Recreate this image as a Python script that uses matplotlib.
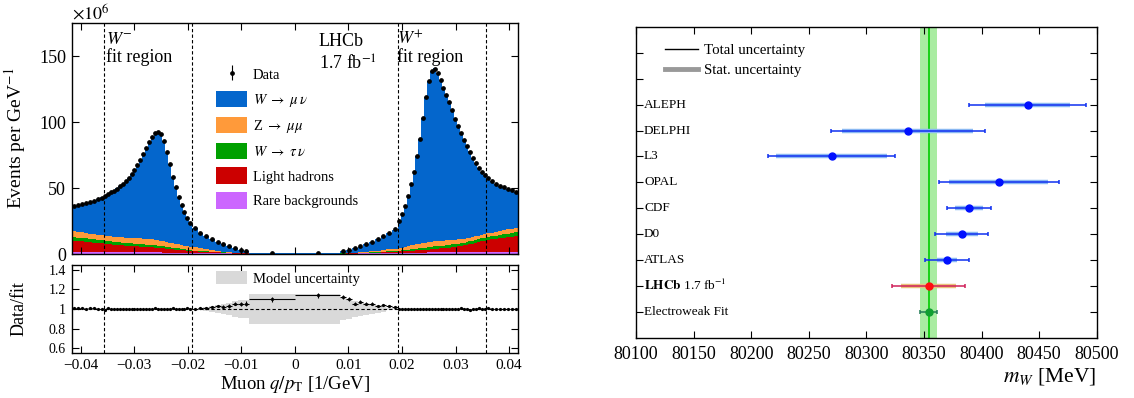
import numpy as np
import matplotlib
matplotlib.use('Agg')
import matplotlib.pyplot as plt
from matplotlib.lines import Line2D
from matplotlib.patches import Patch
from matplotlib.ticker import MultipleLocator, FuncFormatter

plt.rcParams['font.family'] = ['Liberation Serif', 'DejaVu Serif']
plt.rcParams['mathtext.fontset'] = 'stix'
plt.rcParams['axes.linewidth'] = 1.0

# ----- q/pT histogram (values in 1e6 events per GeV^-1) -----
# W- side: outer (8 bins), fit region (30), inner (10), centre (1)
data_neg = [36.3, 36.9, 37.6, 38.5, 39.4, 40.3, 41.5, 42.8,
            44.2, 45.4, 46.7, 48.0, 49.6, 51.2, 53.0, 55.0, 57.5, 60.5,
            64.0, 67.5, 71.5, 76.0, 80.5, 85.0, 89.0, 92.0, 92.5, 91.0,
            85.5, 77.0, 68.0, 58.5, 50.5, 43.5, 37.5, 31.5, 27.0, 23.5,
            20.0, 16.2, 13.6, 11.3, 9.4, 7.6, 6.0, 4.5, 3.2, 2.2,
            0.5]
# W+ side: centre (1), inner (10), fit region (30), outer (8)
data_pos = [0.5,
            2.3, 3.2, 4.4, 6.1, 7.6, 9.4, 11.5, 13.8, 16.2, 18.8,
            25.0, 30.0, 36.0, 44.0, 53.0, 62.0, 74.0, 87.0, 103.0, 119.0,
            131.0, 139.0, 140.5, 137.0, 132.0, 126.0, 120.5, 115.0, 109.0, 102.5,
            97.0, 91.5, 86.0, 81.5, 77.0, 72.7, 68.6, 65.2, 62.3, 59.8,
            57.5, 55.2, 53.3, 51.8, 50.5, 49.5, 48.3, 47.2]

rare_neg = [1.3] * 8 + [1.2] * 20 + [1.1] * 10 + \
    [1.0, 0.9, 0.8, 0.7, 0.6, 0.5, 0.4, 0.3, 0.3, 0.2] + [0.1]
rare_pos = [0.1] + [0.2, 0.3, 0.3, 0.4, 0.5, 0.6, 0.7, 0.8, 0.9, 1.0] + \
    [1.1] * 10 + [1.2] * 20 + [1.3] * 8

hadron_neg = [8.8, 8.5, 8.2, 7.9, 7.6, 7.3, 7.0, 6.7,
              6.4, 6.2, 6.0, 5.8, 5.6, 5.4, 5.3, 5.1, 5.0, 4.8,
              4.7, 4.5, 4.4, 4.2, 4.1, 3.9, 3.8, 3.6, 3.5, 3.3,
              3.1, 2.9, 2.7, 2.5, 2.3, 2.1, 1.9, 1.7, 1.5, 1.3,
              1.1, 0.9, 0.8, 0.7, 0.6, 0.5, 0.4, 0.3, 0.3, 0.2,
              0.05]
hadron_pos = [0.05,
              0.1, 0.1, 0.2, 0.2, 0.3, 0.3, 0.4, 0.5, 0.6, 0.7,
              0.8, 0.9, 1.0, 1.1, 1.3, 1.4, 1.6, 1.7, 1.9, 2.0,
              2.2, 2.4, 2.6, 2.8, 3.0, 3.2, 3.5, 3.7, 4.0, 4.3,
              4.6, 5.0, 5.4, 5.8, 6.2, 6.7, 7.2, 7.7, 8.3, 8.9,
              9.3, 9.7, 10.1, 10.5, 10.9, 11.3, 11.7, 12.1]

tau_neg = [2.7, 2.7, 2.6, 2.6, 2.6, 2.5, 2.5, 2.5,
           2.4, 2.4, 2.3, 2.3, 2.2, 2.2, 2.1, 2.1, 2.0, 2.0,
           2.0, 1.9, 1.9, 1.9, 1.8, 1.8, 1.8, 1.7, 1.7, 1.6,
           1.5, 1.4, 1.3, 1.2, 1.1, 1.0, 0.9, 0.8, 0.7, 0.6,
           0.5, 0.4, 0.3, 0.3, 0.2, 0.2, 0.1, 0.1, 0.1, 0.1,
           0.02]
tau_pos = [0.02,
           0.1, 0.1, 0.1, 0.2, 0.2, 0.3, 0.3, 0.4, 0.5, 0.6,
           0.7, 0.8, 0.9, 1.0, 1.1, 1.2, 1.3, 1.4, 1.5, 1.6,
           1.7, 1.8, 1.9, 2.0, 2.0, 2.0, 2.0, 2.0, 2.0, 2.0,
           2.0, 2.0, 2.0, 2.1, 2.1, 2.1, 2.2, 2.2, 2.3, 2.3,
           2.4, 2.5, 2.6, 2.7, 2.8, 2.9, 3.0, 3.1]

zmumu_neg = [4.4, 4.3, 4.2, 4.1, 4.0, 3.9, 3.8, 3.8,
             3.8, 3.8, 3.9, 3.9, 4.0, 4.0, 4.1, 4.1, 4.2, 4.2,
             4.3, 4.3, 4.3, 4.3, 4.3, 4.3, 4.3, 4.2, 4.1, 4.0,
             4.0, 3.8, 3.6, 3.4, 3.2, 3.0, 2.9, 2.8, 2.7, 2.6,
             2.4, 2.0, 1.6, 1.2, 0.9, 0.6, 0.4, 0.3, 0.2, 0.1,
             0.03]
zmumu_pos = [0.03,
             0.1, 0.2, 0.3, 0.5, 0.7, 0.9, 1.1, 1.3, 1.5, 1.7,
             1.9, 2.1, 2.4, 2.7, 3.0, 3.2, 3.4, 3.5, 3.6, 3.7,
             3.8, 3.8, 3.8, 3.8, 3.7, 3.7, 3.6, 3.6, 3.5, 3.4,
             3.3, 3.2, 3.1, 3.0, 2.9, 2.8, 2.7, 2.6, 2.5, 2.5,
             2.6, 2.7, 2.8, 2.9, 3.0, 3.1, 3.2, 3.3]

# data / fit
ratio_neg = [1.01, 1.005, 1.01, 1.0, 1.005, 1.01, 1.0, 0.995,
             0.99, 1.005, 1.0, 1.0, 0.998, 1.0, 1.0, 1.002, 0.998, 1.0,
             1.0, 1.002, 1.0, 1.0, 1.003, 1.0, 1.002, 1.005, 1.0, 1.003,
             1.0, 1.002, 1.0, 1.005, 1.0, 1.003, 1.0, 1.002, 1.005, 1.0,
             1.003, 1.008, 1.015, 1.025, 1.03, 1.025, 1.03, 1.055, 1.055, 1.055,
             1.10]
ratio_pos = [1.14,
             1.12, 1.10, 1.055, 1.075, 1.055, 1.055, 1.03, 1.04, 1.035, 1.02,
             1.0, 1.002, 0.998, 1.0, 1.0, 1.002, 0.998, 1.0, 1.0, 1.0,
             1.002, 1.0, 0.998, 1.0, 1.0, 1.002, 1.0, 1.0, 1.0, 1.002,
             1.0, 1.005, 1.0, 0.995, 0.99, 1.0, 1.0, 1.005, 0.998, 0.995,
             1.005, 1.0, 1.0, 1.002, 1.0, 1.0, 1.002, 1.0]
ratio_err_neg = [0.004] * 38 + [0.006, 0.007, 0.008, 0.01, 0.012,
                                0.014, 0.016, 0.018, 0.02, 0.022] + [0.025]
ratio_err_pos = [0.025] + [0.022, 0.02, 0.018, 0.016, 0.014,
                           0.012, 0.01, 0.008, 0.007, 0.006] + [0.004] * 38
model_unc_neg = [0.0] * 38 + [0.0, 0.01, 0.02, 0.03, 0.04,
                              0.05, 0.065, 0.085, 0.09, 0.09] + [0.155]
model_unc_pos = [0.155] + [0.11, 0.10, 0.08, 0.07, 0.06,
                           0.05, 0.04, 0.03, 0.015, 0.005] + [0.0] * 38

# ----- m_W comparison (MeV) -----
experiments = ['ALEPH', 'DELPHI', 'L3', 'OPAL', 'CDF', 'D0', 'ATLAS',
               r'$\mathbf{LHCb}$ 1.7 fb$^{-1}$', 'Electroweak Fit']
mw = [80440, 80336, 80270, 80415, 80389, 80383, 80370, 80354, 80354]
mw_tot = [51, 67, 55, 52, 19, 23, 19, 32, 7]
mw_stat = [37, 57, 48, 43, 12, 14, 9, 24, 0]
ew_mw, ew_err = 80354, 7

# ----- binning: fit region 28 < pT < 52 GeV -----
fit_lo, fit_hi, qpt_max = 1 / 52, 1 / 28, 1 / 24
half = np.concatenate([np.linspace(qpt_max, fit_hi, 9),
                       np.linspace(fit_hi, fit_lo, 31)[1:],
                       np.linspace(fit_lo, 0.0085, 11)[1:], [0.0]])
edges = np.concatenate([-half, half[::-1][1:]])
centers = 0.5 * (edges[1:] + edges[:-1])
widths = np.diff(edges)

data = np.array(data_neg + data_pos)
ratio = np.array(ratio_neg + ratio_pos)
rare = np.array(rare_neg + rare_pos)
hadron = np.array(hadron_neg + hadron_pos)
tau = np.array(tau_neg + tau_pos)
zmumu = np.array(zmumu_neg + zmumu_pos)
wmunu = np.clip(data / ratio - (rare + hadron + tau + zmumu), 0, None)
model_unc = np.array(model_unc_neg + model_unc_pos)
ratio_err = np.array(ratio_err_neg + ratio_err_pos)

colors = {'wmunu': '#0466cc', 'zmumu': '#ff9a3a', 'tau': '#00a000',
          'hadron': '#cc0000', 'rare': '#cc66ff'}

fig = plt.figure(figsize=(11.34, 3.98), dpi=100)
ax = fig.add_axes([0.0632, 0.3618, 0.3936, 0.5804])
axr = fig.add_axes([0.0632, 0.1131, 0.3936, 0.2211])
axm = fig.add_axes([0.5608, 0.1515, 0.4063, 0.7807])

# ----- top panel: stacked histogram -----
bottom = np.zeros_like(data)
for vals, key in [(rare, 'rare'), (hadron, 'hadron'), (tau, 'tau'),
                  (zmumu, 'zmumu'), (wmunu, 'wmunu')]:
    ax.stairs(bottom + vals, edges, baseline=bottom, fill=True,
              color=colors[key], lw=0)
    bottom = bottom + vals
data_h = ax.errorbar(centers, data, yerr=np.zeros_like(data), fmt='o', ms=2.4,
                     color='k', elinewidth=0.8, capsize=0, zorder=5)

for a in (ax, axr):
    for xv in (-fit_hi, -fit_lo, fit_lo, fit_hi):
        a.axvline(xv, ls=(0, (3, 2)), color='k', lw=0.8, zorder=6)
    a.set_xlim(-qpt_max, qpt_max)
    a.xaxis.set_major_locator(MultipleLocator(0.01))
    a.tick_params(which='both', direction='in', top=True, right=True,
                  length=5, width=0.8)

ax.set_ylim(0, 175)
ax.yaxis.set_major_locator(MultipleLocator(50))
ax.tick_params(axis='x', labelbottom=False)
ax.tick_params(axis='y', labelsize=13, pad=4)
ax.set_ylabel(r'Events per GeV$^{-1}$', fontsize=14)
ax.yaxis.set_label_coords(-0.098, 0.5)
ax.text(0.0, 0.998, r'$\times10^{6}$', transform=ax.transAxes,
        ha='left', va='bottom', fontsize=13)

ax.text(0.077, 0.93, r'$W^{-}$', transform=ax.transAxes, fontsize=13, va='center')
ax.text(0.077, 0.852, 'fit region', transform=ax.transAxes, fontsize=13, va='center')
ax.text(0.728, 0.93, r'$W^{+}$', transform=ax.transAxes, fontsize=13, va='center')
ax.text(0.728, 0.852, 'fit region', transform=ax.transAxes, fontsize=13, va='center')
ax.text(0.554, 0.922, 'LHCb', transform=ax.transAxes, fontsize=13, va='center')
ax.text(0.554, 0.822, r'1.7 fb$^{-1}$', transform=ax.transAxes, fontsize=13, va='center')

handles = [data_h,
           Patch(facecolor=colors['wmunu'], lw=0),
           Patch(facecolor=colors['zmumu'], lw=0),
           Patch(facecolor=colors['tau'], lw=0),
           Patch(facecolor=colors['hadron'], lw=0),
           Patch(facecolor=colors['rare'], lw=0)]
labels = ['Data', r'$W\ \rightarrow\ \mu\,\nu$', r'Z $\rightarrow\ \mu\mu$',
          r'$W\ \rightarrow\ \tau\,\nu$', 'Light hadrons', 'Rare backgrounds']
ax.legend(handles, labels, loc='upper left', bbox_to_anchor=(0.324, 0.814),
          frameon=False, fontsize=10.5, handlelength=2.1, handleheight=1.37,
          labelspacing=0.55, borderpad=0, borderaxespad=0, handletextpad=0.4)

# ----- ratio panel -----
axr.stairs(1 + model_unc, edges, baseline=1 - model_unc, fill=True,
           color='#d9d9d9', lw=0)
axr.axhline(1, ls=(0, (3, 2)), color='k', lw=0.8)
axr.errorbar(centers, ratio, xerr=widths / 2, yerr=ratio_err, fmt='o', ms=1.3,
             color='k', elinewidth=0.8, capsize=0, zorder=5)
axr.set_ylim(0.55, 1.45)
axr.set_yticks([0.6, 0.8, 1.0, 1.2, 1.4])
axr.yaxis.set_major_formatter(FuncFormatter(lambda v, p: f'{v:g}'))
axr.xaxis.set_major_formatter(
    FuncFormatter(lambda v, p: f'{v:g}'.replace('-', '\u2212') if abs(v) > 1e-9 else '0'))
axr.tick_params(axis='y', labelsize=10, pad=4)
axr.tick_params(axis='x', labelsize=11, pad=4)
axr.set_ylabel('Data/fit', fontsize=13)
axr.yaxis.set_label_coords(-0.098, 0.5)
axr.set_xlabel(r'Muon $q/p_{\mathrm{T}}$ [1/GeV]', fontsize=13.5, labelpad=2)
axr.legend([Patch(facecolor='#d9d9d9', lw=0)], ['Model uncertainty'],
           loc='upper left', bbox_to_anchor=(0.324, 0.935), frameon=False,
           fontsize=10.5, handlelength=2.1, handleheight=1.07, borderpad=0,
           borderaxespad=0, handletextpad=0.4)

# ----- right panel: m_W comparison -----
axm.axvspan(ew_mw - ew_err, ew_mw + ew_err, color='#a9eca1', lw=0, zorder=0)
axm.axvline(ew_mw, color='#00cc00', lw=1.2, zorder=1)
ypos = np.arange(len(experiments), 0, -1)
for i, name in enumerate(experiments):
    if name.startswith(r'$\mathbf{LHCb}'):
        pc, lc, sc = '#ff1010', '#d0205a', '#e9c27a'
    elif name == 'Electroweak Fit':
        pc, lc, sc = '#10a030', '#207a55', '#7fc890'
    else:
        pc, lc, sc = '#0010ff', '#1030f0', '#8ab8f2'
    if mw_stat[i] > 0:
        axm.plot([mw[i] - mw_stat[i], mw[i] + mw_stat[i]], [ypos[i], ypos[i]],
                 lw=3.2, color=sc, solid_capstyle='butt', zorder=2)
    axm.errorbar(mw[i], ypos[i], xerr=mw_tot[i], fmt='o', ms=5, color=pc,
                 ecolor=lc, elinewidth=1.1, capsize=1.6, capthick=1.1, zorder=3)
    axm.text(80107, ypos[i], name, va='center', ha='left', fontsize=9.5)

axm.set_xlim(80100, 80500)
axm.set_ylim(0, 12)
axm.set_xticks(np.arange(80100, 80501, 50))
axm.xaxis.set_major_formatter(FuncFormatter(lambda v, p: f'{v:.0f}'))
axm.set_yticks(np.arange(1, 12))
axm.tick_params(direction='in', top=True, right=True, length=5, width=0.8,
                labelleft=False)
axm.tick_params(axis='x', labelsize=13, pad=6)
axm.set_xlabel(r'$m_W$ [MeV]', loc='right', fontsize=15.5, labelpad=2)
axm.legend([Line2D([], [], color='k', lw=1.0),
            Line2D([], [], color='#999999', lw=3.5)],
           ['Total uncertainty', 'Stat. uncertainty'],
           loc='upper left', bbox_to_anchor=(0.063, 0.945), frameon=False,
           fontsize=10.7, handlelength=2.2, labelspacing=0.4, borderpad=0,
           borderaxespad=0, handletextpad=0.4)

fig.savefig('out.png', dpi=100)
